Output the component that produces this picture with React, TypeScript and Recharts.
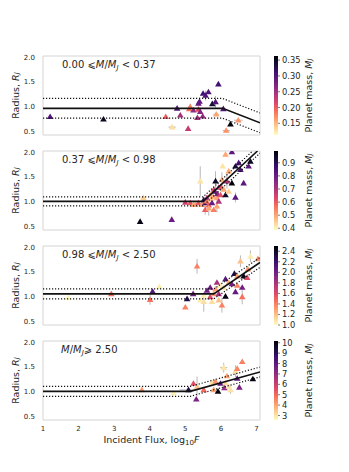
import React from 'react'
import { ScatterChart, Scatter, XAxis, YAxis, ErrorBar, ReferenceArea } from 'recharts'

// [log10 flux, radius (Rj), mass (Mj), radius err, flux err]
type Pt = [number, number, number, number?, number?]

const lowMass: Pt[] = [
  [1.2, 0.79, 0.30], [2.7, 0.74, 0.35], [4.45, 0.79, 0.20], [4.63, 0.58, 0.13, 0.04, 0.1],
  [4.77, 0.96, 0.30], [4.86, 0.82, 0.25], [5.08, 0.55, 0.23], [5.11, 0.95, 0.19],
  [5.14, 0.99, 0.18, 0.06], [5.23, 0.92, 0.26], [5.34, 0.77, 0.25], [5.37, 1.06, 0.29],
  [5.37, 0.94, 0.21], [5.4, 1.1, 0.29, 0.08], [5.42, 0.89, 0.27], [5.49, 0.8, 0.26],
  [5.5, 1.26, 0.31], [5.57, 1.22, 0.30, 0.1], [5.65, 1.29, 0.30], [5.76, 1.05, 0.34],
  [5.85, 1.09, 0.30, 0.12], [5.87, 0.84, 0.16, 0.04, 0.08], [5.93, 1.45, 0.31], [6.07, 0.95, 0.30],
  [6.15, 0.51, 0.17, 0.04, 0.1], [6.27, 0.64, 0.36], [6.49, 0.72, 0.17, 0.03, 0.12],
]

const midMass: Pt[] = [
  [3.73, 0.59, 0.97], [3.82, 1.07, 0.45], [4.62, 0.63, 0.80], [5.0, 0.98, 0.65],
  [5.14, 0.97, 0.6], [5.23, 0.93, 0.5], [5.28, 0.93, 0.5], [5.37, 0.97, 0.6],
  [5.42, 1.41, 0.42, 0.3], [5.47, 0.93, 0.5], [5.52, 1.03, 0.9], [5.56, 0.97, 0.8],
  [5.56, 0.83, 0.6, 0.1], [5.6, 1.0, 0.55], [5.61, 1.07, 0.7], [5.66, 0.92, 0.6],
  [5.66, 0.86, 0.5, 0.15], [5.7, 1.13, 0.5], [5.72, 1.05, 0.45], [5.75, 0.97, 0.8],
  [5.78, 1.1, 0.5], [5.8, 1.24, 0.62], [5.8, 0.83, 0.55], [5.83, 1.2, 0.82],
  [5.85, 1.41, 0.95, 0.2], [5.89, 1.07, 0.5], [5.89, 0.9, 0.5, 0.12], [5.9, 1.15, 0.75],
  [5.94, 1.28, 0.7], [5.94, 1.0, 0.7], [5.99, 1.13, 0.62], [6.0, 1.3, 0.6],
  [6.03, 1.44, 0.5, 0.15], [6.05, 1.71, 0.42], [6.08, 1.24, 0.5], [6.13, 1.95, 0.5],
  [6.13, 1.13, 0.95], [6.17, 1.41, 0.7, 0.15], [6.22, 1.61, 0.5], [6.22, 1.2, 0.45],
  [6.31, 2.0, 0.82], [6.31, 1.37, 0.98], [6.41, 1.71, 0.93], [6.41, 1.08, 0.82, 0.1],
  [6.5, 1.78, 0.85], [6.55, 1.64, 0.85], [6.64, 1.37, 0.82], [6.78, 1.71, 0.82],
  [6.83, 1.81, 0.95],
]

const highMass: Pt[] = [
  [1.71, 0.97, 1.02], [2.92, 1.05, 1.45], [4.01, 0.93, 1.45, 0.1], [4.08, 1.1, 2.1, 0.04, 0.05],
  [4.27, 1.2, 1.05], [5.0, 0.78, 1.4], [5.05, 0.95, 2.3], [5.22, 1.05, 2.0],
  [5.33, 1.61, 1.4, 0.15], [5.42, 0.92, 1.05], [5.52, 1.02, 1.05], [5.52, 0.89, 1.1, 0.2],
  [5.61, 1.12, 2.0], [5.7, 1.18, 2.0], [5.7, 0.99, 1.6], [5.75, 0.89, 1.1],
  [5.8, 1.05, 1.3], [5.85, 1.15, 1.3], [5.89, 1.28, 1.8], [5.94, 1.05, 1.8],
  [5.94, 0.92, 1.2], [5.99, 1.22, 1.05], [6.03, 0.82, 1.4, 0.15], [6.08, 1.18, 1.1],
  [6.13, 1.35, 2.1], [6.13, 1.0, 2.45], [6.22, 1.28, 1.25], [6.31, 1.25, 2.0],
  [6.38, 1.46, 2.3], [6.41, 1.09, 2.05], [6.46, 1.41, 1.3], [6.46, 1.22, 1.4],
  [6.55, 1.71, 1.2, 0.12], [6.6, 1.18, 2.0], [6.6, 0.99, 1.45, 0.15], [6.64, 1.41, 2.45],
  [6.74, 1.38, 1.6], [6.76, 1.55, 1.35], [6.83, 1.81, 1.05, 0.12], [7.04, 1.76, 1.35],
]

const veryHighMass: Pt[] = [
  [3.78, 1.03, 4.2], [4.67, 0.97, 2.8], [5.09, 1.03, 9.2, 0.05, 0.25], [5.23, 1.16, 5.5],
  [5.31, 0.84, 7.5], [5.33, 1.1, 3.5, 0.2], [5.52, 1.03, 5.0], [5.75, 1.18, 3.0],
  [5.8, 1.03, 4.0], [5.85, 1.2, 4.3], [5.92, 1.0, 10.0], [5.99, 1.16, 8.0],
  [6.08, 1.48, 3.0, 0.1, 0.1], [6.1, 1.07, 7.0], [6.13, 1.17, 3.2], [6.17, 1.31, 4.0],
  [6.22, 1.1, 3.0], [6.27, 1.03, 3.0, 0.08], [6.41, 1.41, 3.1, 0.12], [6.46, 1.46, 4.5],
  [6.46, 1.26, 8.0], [6.52, 1.08, 7.5], [6.6, 1.6, 4.6], [6.9, 1.25, 10.0],
]

const binLabels = ['0.00', '0.37', '0.98', '2.50']
const massMin = [0.113, 0.387, 1.0, 2.57]
const massMax = [0.363, 0.99, 2.5, 10.17]
const cbTicks = [
  [0.15, 0.2, 0.25, 0.3, 0.35],
  [0.4, 0.5, 0.6, 0.7, 0.8, 0.9],
  [1.0, 1.2, 1.4, 1.6, 1.8, 2.0, 2.2, 2.4],
  [3, 4, 5, 6, 7, 8, 9, 10],
]
const cbDigits = [2, 1, 1, 0]

// broken-line fit: flat level, break point, slope after break, scatter width
const fitLevel = [0.96, 1.0, 1.05, 1.0]
const fitBreak = [6.05, 5.5, 5.8, 5.14]
const fitSlope = [-0.28, 0.667, 0.49, 0.2]
const fitWidth = [0.2, 0.09, 0.1, 0.1]

const radiusTicks = [0.5, 1.0, 1.5, 2.0]
const fluxTicks = [1, 2, 3, 4, 5, 6, 7]

const X0 = 1, X1 = 7.1, Y0 = 0.42, Y1 = 2.02
const panelTop = [56, 151, 246, 341]
const PH = 79
const TXT = '#262626'

const magma = ['#000004', '#140e36', '#3b0f70', '#641a80', '#8c2981', '#b73779',
  '#de4968', '#f7705c', '#fe9f6d', '#fecf92', '#fcfdbf']

function hex(c: string) {
  return [1, 3, 5].map(i => parseInt(c.slice(i, i + 2), 16))
}

// magma_r: low mass -> pale yellow, high mass -> black
function cmap(m: number, lo: number, hi: number) {
  let t = (m - lo) / (hi - lo)
  t = Math.max(0, Math.min(1, t))
  const s = (1 - t) * 10
  const i = Math.min(9, Math.floor(s))
  const f = s - i
  const a = hex(magma[i]), b = hex(magma[i + 1])
  const c = a.map((v, k) => Math.round(v + (b[k] - v) * f))
  return `rgb(${c[0]},${c[1]},${c[2]})`
}

// stop the fit where it leaves the top of the axes
function fitLine(p: number, off: number) {
  const lv = fitLevel[p] + off
  let xe = X1
  let ye = lv + fitSlope[p] * (X1 - fitBreak[p])
  if (ye > Y1) {
    xe = fitBreak[p] + (Y1 - lv) / fitSlope[p]
    ye = Y1
  }
  return [
    { x: X0, y: lv },
    { x: fitBreak[p], y: lv },
    { x: xe, y: ye },
  ]
}

const noDot = () => <g />

function Panel({ idx, pts }: { idx: number, pts: Pt[] }) {
  const last = idx === 3
  const data = pts.map(p => ({ x: p[0], y: p[1], m: p[2], ey: p[3] || 0, ex: p[4] || 0 }))
  const tri = (props: any) => {
    const { cx, cy, payload } = props
    const fill = cmap(payload.m, massMin[idx], massMax[idx])
    return <path d={`M${cx},${cy - 3.3}L${cx + 3.3},${cy + 2.3}L${cx - 3.3},${cy + 2.3}Z`} fill={fill} />
  }
  return (
    <div style={{ position: 'absolute', left: 0, top: panelTop[idx] - 2 }}>
      <ScatterChart width={262} height={PH + 4 + (last ? 30 : 0)} margin={{ top: 2, right: 2, bottom: 2, left: 0 }}>
        <XAxis type="number" dataKey="x" domain={[X0, X1]} ticks={fluxTicks} allowDataOverflow
          hide={!last} height={30} tickLine={false} axisLine={false} tickMargin={0}
          tick={{ fontSize: 7, fill: TXT }} />
        <YAxis type="number" dataKey="y" domain={[Y0, Y1]} ticks={radiusTicks} allowDataOverflow
          width={43} tickLine={false} axisLine={false}
          tickFormatter={(v: number) => v.toFixed(1)} tick={{ fontSize: 7, fill: TXT }} />
        <ReferenceArea x1={X0} x2={X1} y1={Y0} y2={Y1} fill="none" stroke="#d4d4d4" strokeWidth={1} />
        <Scatter data={data} shape={tri} isAnimationActive={false}>
          <ErrorBar dataKey="ey" direction="y" width={0} stroke="#b8b8b8" strokeWidth={1} />
          <ErrorBar dataKey="ex" direction="x" width={0} stroke="#b8b8b8" strokeWidth={1} />
        </Scatter>
        <Scatter data={fitLine(idx, fitWidth[idx])} shape={noDot} isAnimationActive={false}
          line={{ stroke: '#111', strokeWidth: 1.2, strokeDasharray: '1.2 1.8' }} />
        <Scatter data={fitLine(idx, -fitWidth[idx])} shape={noDot} isAnimationActive={false}
          line={{ stroke: '#111', strokeWidth: 1.2, strokeDasharray: '1.2 1.8' }} />
        <Scatter data={fitLine(idx, 0)} shape={noDot} isAnimationActive={false}
          line={{ stroke: '#111', strokeWidth: 1.6 }} />
      </ScatterChart>
    </div>
  )
}

function Overlay() {
  return (
    <svg width={349} height={472} style={{ position: 'absolute', left: 0, top: 0, pointerEvents: 'none' }}
      fontFamily="DejaVu Sans" fill={TXT}>
      <defs>
        <linearGradient id="magmaR" x1="0" y1="0" x2="0" y2="1">
          {magma.map((c, i) => <stop key={i} offset={i / 10} stopColor={c} />)}
        </linearGradient>
      </defs>
      {panelTop.map((top, i) => {
        const mid = top + PH / 2
        return (
          <g key={i}>
            <text transform={`translate(15,${mid}) rotate(-90)`} textAnchor="middle" dominantBaseline="central" fontSize={9.5}>
              Radius, <tspan fontStyle="italic">R</tspan><tspan fontStyle="italic" fontSize={7} dy={2}>J</tspan>
            </text>
            {i < 3 ? (
              <text x={62} y={top + 12} fontSize={10}>
                {binLabels[i]} ⩽<tspan fontStyle="italic">M</tspan>/<tspan fontStyle="italic">M</tspan>
                <tspan fontStyle="italic" fontSize={7} dy={2}>J</tspan>
                <tspan dy={-2}> &lt; {binLabels[i + 1]}</tspan>
              </text>
            ) : (
              <text x={61} y={top + 12} fontSize={10}>
                <tspan fontStyle="italic">M</tspan>/<tspan fontStyle="italic">M</tspan>
                <tspan fontStyle="italic" fontSize={7} dy={2}>J</tspan>
                <tspan dy={-2}>⩾ {binLabels[3]}</tspan>
              </text>
            )}
            <rect x={274} y={top} width={4} height={PH} fill="url(#magmaR)" />
            {cbTicks[i].map(t => {
              const y = top + PH * (massMax[i] - t) / (massMax[i] - massMin[i])
              return (
                <g key={t}>
                  <line x1={278} x2={280} y1={y} y2={y} stroke={TXT} strokeWidth={0.6} />
                  <text x={282} y={y} fontSize={8.3} dominantBaseline="central">{t.toFixed(cbDigits[i])}</text>
                </g>
              )
            })}
            <text transform={`translate(308,${mid}) rotate(-90)`} textAnchor="middle" dominantBaseline="central" fontSize={9.5}>
              Planet mass, <tspan fontStyle="italic">M</tspan><tspan fontStyle="italic" fontSize={7} dy={2}>J</tspan>
            </text>
          </g>
        )
      })}
      <text x={151.5} y={443} textAnchor="middle" fontSize={9.5}>
        Incident Flux, log<tspan fontSize={7} dy={2}>10</tspan><tspan fontStyle="italic" dy={-2}>F</tspan>
      </text>
    </svg>
  )
}

export default function App() {
  const sets = [lowMass, midMass, highMass, veryHighMass]
  return (
    <div style={{ position: 'absolute', left: 0, top: 0, width: 349, height: 472, background: '#fff', fontFamily: 'DejaVu Sans' }}>
      {sets.map((pts, i) => <Panel key={i} idx={i} pts={pts} />)}
      <Overlay />
    </div>
  )
}
